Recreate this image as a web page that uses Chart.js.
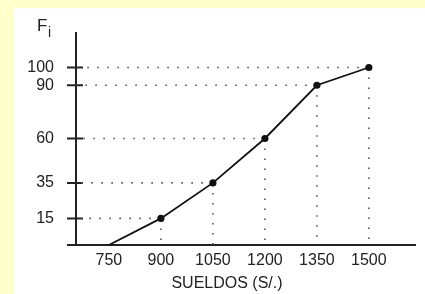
<!DOCTYPE html>
<html>
<head>
<meta charset="utf-8">
<script src="https://cdn.jsdelivr.net/npm/chart.js@4"></script>
<style>
  html, body { margin: 0; padding: 0; }
  body { width: 425px; height: 294px; background: #FFFFCC; position: relative; overflow: hidden; }
  #panel { position: absolute; left: 14px; top: 8px; width: 411px; height: 286px; background: #ffffff; }
  canvas { display: block; }
</style>
</head>
<body>
<div id="panel"><canvas id="c" width="411" height="286"></canvas></div>
<script>
const SUELDOS = [750, 900, 1050, 1200, 1350, 1500];
const FI = [0, 15, 35, 60, 90, 100];
const X_TICKS = [750, 900, 1050, 1200, 1350, 1500];
const Y_TICKS = [15, 35, 60, 90, 100];
const X_TITLE = 'SUELDOS (S/.)';
const Y_TITLE_MAIN = 'F';
const Y_TITLE_SUB = 'i';

const X_MIN = 655, X_MAX = 1636, Y_MIN = 0, Y_MAX = 120;
const FONT = '"Liberation Sans", Arial, sans-serif';
const INK = '#222222';

const mainData = SUELDOS.map((x, i) => ({ x: x, y: FI[i] }));
const guideSets = [];
SUELDOS.forEach((x, i) => {
  if (FI[i] <= 0) return;
  guideSets.push({
    data: [{ x: x, y: FI[i] }, { x: X_MIN, y: FI[i] }],
    borderColor: '#555', borderWidth: 1.6, borderDash: [1.6, 8.4],
    pointRadius: 0, fill: false, clip: false, tension: 0
  });
  guideSets.push({
    data: [{ x: x, y: FI[i] }, { x: x, y: Y_MIN }],
    borderColor: '#555', borderWidth: 1.6, borderDash: [1.6, 8.4],
    pointRadius: 0, fill: false, clip: false, tension: 0
  });
});

const axesPlugin = {
  id: 'axesPlugin',
  beforeDatasetsDraw(chart) {
    const ctx = chart.ctx, xs = chart.scales.x, ys = chart.scales.y;
    const x0 = xs.getPixelForValue(X_MIN), x1 = xs.getPixelForValue(X_MAX);
    const y0 = ys.getPixelForValue(Y_MIN), y1 = ys.getPixelForValue(Y_MAX);
    ctx.save();
    ctx.strokeStyle = INK;
    ctx.lineWidth = 2;
    ctx.beginPath();
    ctx.moveTo(x0, y1); ctx.lineTo(x0, y0);
    ctx.moveTo(x0 - 9, y0); ctx.lineTo(x1, y0);
    Y_TICKS.forEach(v => {
      const py = ys.getPixelForValue(v);
      ctx.moveTo(x0 - 9, py); ctx.lineTo(x0 + 7, py);
    });
    ctx.stroke();
    ctx.restore();
  },
  afterDraw(chart) {
    const ctx = chart.ctx;
    ctx.save();
    ctx.fillStyle = INK;
    ctx.textAlign = 'center';
    ctx.textBaseline = 'middle';
    ctx.font = '16px ' + FONT;
    ctx.fillText(X_TITLE, 213, 276);
    ctx.textAlign = 'left';
    ctx.textBaseline = 'alphabetic';
    ctx.font = '17px ' + FONT;
    ctx.fillText(Y_TITLE_MAIN, 23, 23);
    ctx.font = '14px ' + FONT;
    ctx.fillText(Y_TITLE_SUB, 34, 29);
    ctx.restore();
  }
};

new Chart(document.getElementById('c'), {
  type: 'line',
  data: {
    datasets: [{
      data: mainData,
      borderColor: '#111111',
      backgroundColor: '#111111',
      borderWidth: 1.8,
      pointRadius: FI.map(v => v === 0 ? 0 : 3.6),
      pointBackgroundColor: '#111111',
      pointBorderWidth: 0,
      fill: false, clip: false, tension: 0
    }, ...guideSets]
  },
  options: {
    responsive: false,
    animation: false,
    devicePixelRatio: 1,
    layout: { padding: { left: 0, right: 9, top: 24, bottom: 0 } },
    plugins: { legend: { display: false }, tooltip: { enabled: false }, title: { display: false } },
    scales: {
      x: {
        type: 'linear', min: X_MIN, max: X_MAX,
        afterBuildTicks: s => { s.ticks = X_TICKS.map(v => ({ value: v })); },
        afterFit: s => { s.height = 49; },
        grid: { display: false, drawTicks: false, tickLength: 0 },
        border: { display: false },
        ticks: { color: INK, font: { family: FONT, size: 16 }, padding: 6, maxRotation: 0, autoSkip: false, callback: v => String(v) }
      },
      y: {
        type: 'linear', min: Y_MIN, max: Y_MAX,
        afterBuildTicks: s => { s.ticks = Y_TICKS.map(v => ({ value: v })); },
        afterFit: s => { s.width = 62; },
        grid: { display: true, color: 'rgba(0,0,0,0)', drawOnChartArea: false, drawTicks: true, tickLength: 21 },
        border: { display: false },
        ticks: { color: INK, font: { family: FONT, size: 16 }, padding: 1, autoSkip: false, callback: v => String(v) }
      }
    }
  },
  plugins: [axesPlugin]
});
</script>
</body>
</html>
